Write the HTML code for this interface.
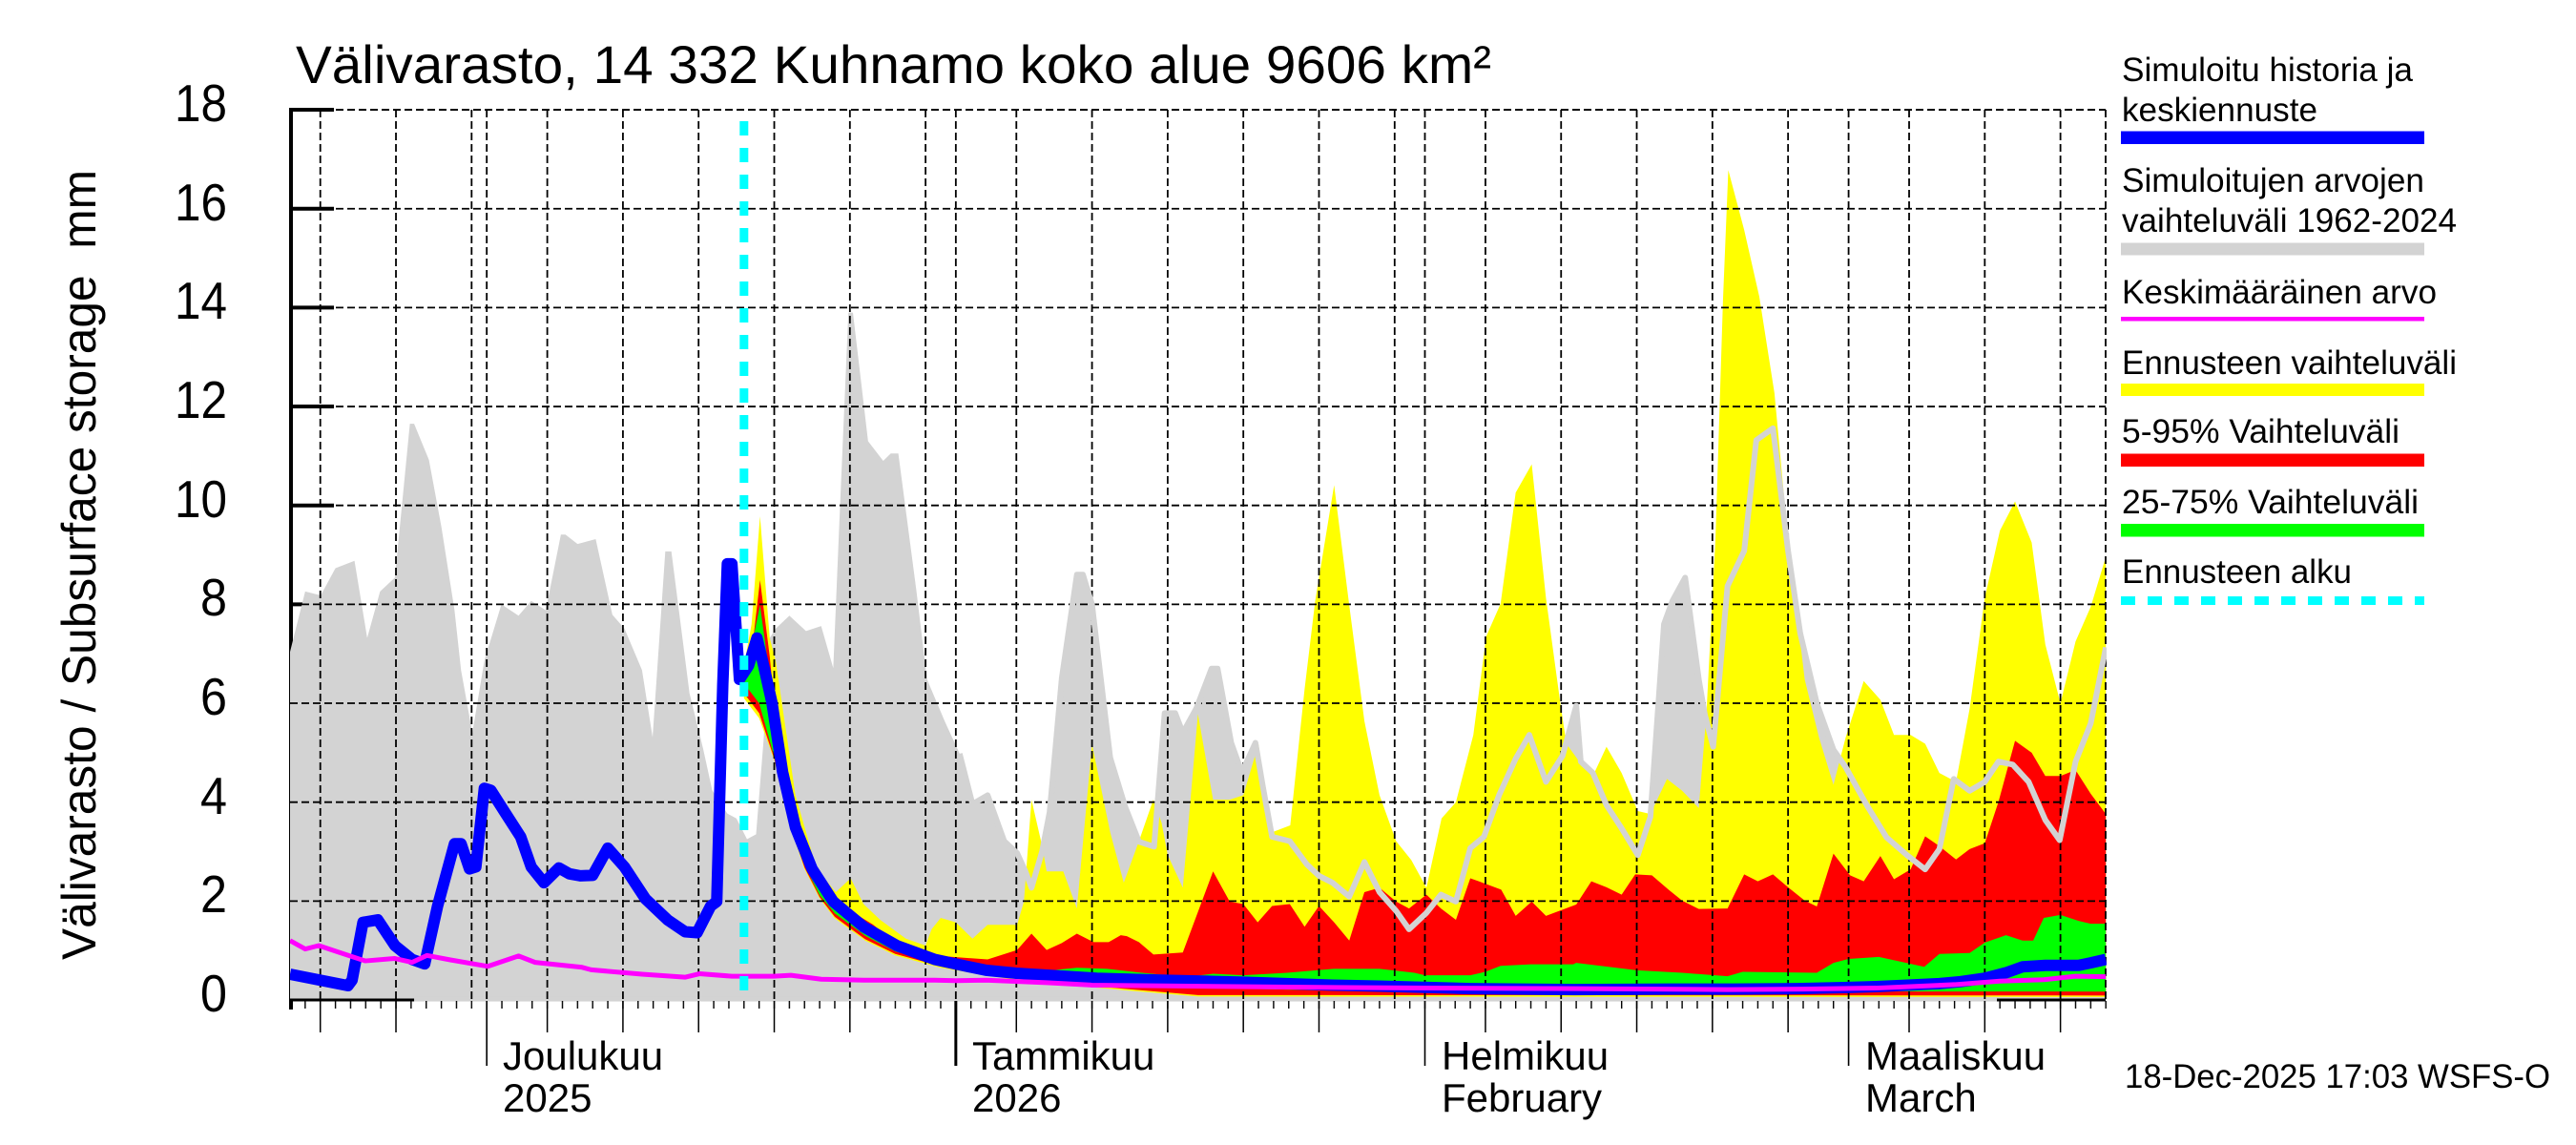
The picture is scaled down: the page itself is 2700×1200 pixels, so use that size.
<!DOCTYPE html>
<html><head><meta charset="utf-8">
<style>
html,body{margin:0;padding:0;background:#fff;}
svg{display:block;}
text{font-family:"Liberation Sans",Arial,sans-serif;fill:#000;}
</style></head>
<body>
<svg width="2700" height="1200" viewBox="0 0 2700 1200" xmlns="http://www.w3.org/2000/svg">
<defs>
<clipPath id="pc"><rect x="304" y="112" width="1904" height="940"/></clipPath>
<pattern id="dt" patternUnits="userSpaceOnUse" x="303.3" y="1049" width="15.86" height="8"><rect x="0" y="0" width="1.4" height="8" fill="#000"/></pattern>
</defs>
<rect width="2700" height="1200" fill="#fff"/>

<!-- Title -->
<text x="310" y="87" font-size="56" textLength="1253" lengthAdjust="spacingAndGlyphs">Välivarasto, 14 332 Kuhnamo koko alue 9606 km²</text>

<!-- Y axis title -->
<text transform="translate(100,592) rotate(-90)" x="0" y="0" font-size="50" text-anchor="middle" textLength="828" lengthAdjust="spacingAndGlyphs" xml:space="preserve">Välivarasto / Subsurface storage&#160; mm</text>

<!-- Y labels -->
<g font-size="55" text-anchor="end">
<text x="238" y="127" textLength="55" lengthAdjust="spacingAndGlyphs">18</text>
<text x="238" y="231" textLength="55" lengthAdjust="spacingAndGlyphs">16</text>
<text x="238" y="334" textLength="55" lengthAdjust="spacingAndGlyphs">14</text>
<text x="238" y="438" textLength="55" lengthAdjust="spacingAndGlyphs">12</text>
<text x="238" y="542" textLength="55" lengthAdjust="spacingAndGlyphs">10</text>
<text x="238" y="645" textLength="28" lengthAdjust="spacingAndGlyphs">8</text>
<text x="238" y="749" textLength="28" lengthAdjust="spacingAndGlyphs">6</text>
<text x="238" y="853" textLength="28" lengthAdjust="spacingAndGlyphs">4</text>
<text x="238" y="956" textLength="28" lengthAdjust="spacingAndGlyphs">2</text>
<text x="238" y="1060" textLength="28" lengthAdjust="spacingAndGlyphs">0</text>
</g>

<!-- axes and ticks (below fills) -->
<line x1="305" y1="113" x2="305" y2="1058" stroke="#000" stroke-width="4"/>
<path d="M304 115.06H350M304 218.72H350M304 322.38H350M304 426.04H350M304 529.7H350M304 633.36H350M304 737.02H350M304 840.68H350M304 944.34H350" stroke="#000" stroke-width="4"/>
<line x1="304" y1="1048" x2="2207" y2="1048" stroke="#000" stroke-width="3"/>

<!-- data fills -->
<g clip-path="url(#pc)">
<g transform="translate(304,1048) scale(15.86,-51.83)">
<polygon fill="#d3d3d3" points="0,7.04 1,8.26 2.03,8.18 3,8.73 4.26,8.88 5.1,7.32 5.95,8.26 6.93,8.54 7.92,11.65 8.2,11.65 9.18,10.92 10,9.57 10.87,7.88 11.3,6.67 12.05,5.4 12.84,6.86 13.97,8 15.1,7.77 15.94,8.07 16.9,7.88 17.9,9.41 18.2,9.41 19,9.22 20.2,9.32 21.3,7.79 22.1,7.51 23.26,6.67 23.96,5.31 24.8,9.07 25.2,9.07 26.4,6.2 27.3,5.08 27.9,4.24 28.9,3.77 29.5,3.67 30.2,3.25 30.8,3.35 31.3,5.27 31.7,7.32 32.1,7.51 33,7.77 34.1,7.46 35.1,7.56 35.9,6.71 36.35,10 36.9,13.9 37.2,13.9 38.2,11.3 39.2,10.9 39.7,11.05 40.2,11.05 41.4,8.26 42.1,6.48 43.26,5.64 44.25,4.98 45.1,3.96 46.1,4.14 47.2,3.21 48.05,2.97 48.6,2.6 49,2.27 49.7,3 50.2,3.8 51,6.5 52,8.6 52.4,8.6 53,8 54.2,4.9 55.2,3.9 56.1,3.2 57.1,3.1 57.8,5.8 58.5,5.8 59,5.4 59.9,5.9 60.9,6.7 61.3,6.7 62.2,5.2 62.9,4.6 63.8,5.2 64.3,4.3 64.9,3.3 66.07,3.21 67.2,2.74 68,2.51 68.9,2.37 70,2.09 71,2.79 72,2.18 73.1,1.8 73.95,1.43 75.1,1.76 76.06,2.13 77.05,1.99 78,3.07 78.9,3.3 79.9,4.14 81,4.88 81.9,5.36 83,4.41 84.1,4.94 85,5.95 85.3,4.82 86.1,4.59 87,3.94 88,3.47 89.07,2.93 89.9,3.7 90.8,7.6 91.36,8.07 92.2,8.54 93.1,6.48 93.5,5.77 94.05,5.12 95,8.37 96.1,9.08 96.9,11.32 98,11.56 99,9.08 99.8,7.42 100.9,6 102,5.06 102.8,4.71 104.2,3.94 105.5,3.29 106.85,2.93 108.06,2.64 109,3.05 109.95,4.47 111,4.23 112,4.41 112.9,4.82 113.85,4.76 114.9,4.41 116,3.64 116.95,3.23 118,4.82 119,5.59 120,7.13 120,0.03 0,0.03"/>
<rect x="8.2" y="-0.03" width="104.6" height="0.09" fill="#d3d3d3"/>
<polygon fill="#ffff00" points="30,6.76 30.5,7.6 31.06,9.78 31.7,7.32 32.1,6.85 33.4,4.14 34.8,2.65 36.07,2.18 37.05,2.46 37.9,1.94 39,1.62 40.7,1.24 42,1.1 42.4,1.43 43,1.66 44,1.57 45.1,1.24 46.1,1.52 48.05,1.52 48.5,1.99 49,4.05 49.7,3.12 50,2.6 51.1,2.6 52,1.85 53,5.17 54.2,3.39 55.1,2.37 56.1,3.21 57.05,4.05 57.6,3.58 58,2.93 59,2.27 60,5.78 61,4.05 62.1,4.05 63,4.14 64,5.17 64.9,3.39 66.1,3.53 67.05,6.29 67.75,8.07 69,10.41 70,7.98 71,5.64 72,4.14 73.1,3.21 74.1,2.83 75.1,2.27 76.1,3.67 77.05,4 78.2,5.36 79.05,7.35 80,8.01 81,10.26 82.06,10.83 83,8.13 83.95,6 84.35,5.18 85.2,4.82 86.1,4.53 87,5.12 88,4.59 89.07,3.82 89.9,3.76 91,4.47 92,4.23 93.1,3.88 93.6,5.77 94.2,9.31 94.7,14.16 95.05,16.78 96.1,15.57 97.1,14.22 98.1,12.27 99,9.31 100.1,6.48 101.05,5.3 102,4.35 102.8,5.3 104,6.45 105.1,6.07 106,5.36 107.1,5.36 108.06,5.18 109,4.59 110.1,4.41 111,5.89 112,8.13 113,9.49 114,10.08 115.1,9.25 116,7.19 117,6 118,7.25 119,7.95 120,8.96 120,0.06 60,0.07 55,0.2 48,0.4 43,0.65 40,0.9 38,1.2 36,1.65 35,2.05 34,2.65 33,3.55 32,4.85 31,5.7 30,6.1"/>
<polygon fill="#ff0000" points="30,6.3 30.5,7 31.06,8.49 31.7,6.95 32.3,5.08 33.4,3.5 34.5,2.7 35.9,2.02 37.05,1.8 38.5,1.53 40.1,1.15 42.6,0.9 43.8,0.87 46.1,0.82 48.05,1.01 49,1.34 50,1.01 51,1.15 52,1.34 53.1,1.17 54.1,1.17 54.9,1.31 55.3,1.29 56.1,1.17 57.06,0.92 59,0.96 61,2.6 62.1,1.99 63,1.94 63.95,1.57 64.9,1.9 66.07,1.94 67.05,1.48 68,1.9 69,1.57 70,1.2 71,2.18 72,2.27 73.1,1.99 73.95,1.85 75.1,2.13 76.06,1.85 77.05,1.62 78,2.46 78.56,2.4 80.04,2.23 81,1.7 82.06,1.99 83,1.7 85,1.93 86,2.4 87,2.28 88,2.13 88.9,2.54 90,2.52 91.1,2.23 92,2.01 93.1,1.84 95,1.85 96.1,2.54 97,2.4 98,2.54 99,2.28 100.1,2.01 100.9,1.89 102,2.96 103.1,2.52 104,2.4 105.1,2.91 106,2.44 107.1,2.64 108.06,3.31 109,3.11 110.1,2.84 111,3.05 112,3.17 112.9,4 114,5.24 115.1,5 116,4.53 117,4.53 118,4.65 119,4.17 120,3.76 120,0.09 60,0.1 55,0.23 48,0.43 43,0.68 40,0.93 38,1.23 36,1.68 35,2.08 34,2.68 33,3.58 32,4.88 31,5.8 30,6.2"/>
<polygon fill="#00ff00" points="30,6.5 30.6,7.3 31.06,7.98 31.5,7 32.3,5.1 33.4,3.7 35,2.3 37,1.75 40,1.18 43,0.87 46,0.66 48,0.58 50,0.59 52,0.65 54,0.63 56,0.56 58,0.5 59.6,0.48 61,0.53 63,0.5 65.9,0.55 67,0.58 69,0.63 72,0.63 74.3,0.55 75,0.5 78,0.5 79,0.57 80,0.69 82,0.72 84.8,0.72 85,0.75 89,0.6 92,0.55 95,0.48 96,0.57 100.9,0.55 102,0.75 103,0.83 105,0.87 108,0.67 109,0.93 111,0.95 112,1.16 113.4,1.31 114.5,1.2 115.2,1.2 115.9,1.66 117,1.72 118.2,1.6 119,1.54 120,1.54 120,0.17 70,0.18 60,0.25 50,0.42 45,0.58 40,0.98 38,1.3 36,1.75 35,2.12 34,2.72 33,3.62 32,4.92 31,6 30,6.4"/>
</g>
</g>

<!-- grid -->
<g stroke="#000" stroke-width="1.8" stroke-dasharray="8,4" fill="none">
<path d="M304 115.06H2207M304 218.72H2207M304 322.38H2207M304 426.04H2207M304 529.7H2207M304 633.36H2207M304 737.02H2207M304 840.68H2207M304 944.34H2207"/>
<path d="M335.72 115V1048M415.02 115V1048M494.32 115V1048M510.18 115V1048M573.62 115V1048M652.92 115V1048M732.22 115V1048M811.52 115V1048M890.82 115V1048M970.12 115V1048M1001.84 115V1048M1065.28 115V1048M1144.58 115V1048M1223.88 115V1048M1303.18 115V1048M1382.48 115V1048M1461.78 115V1048M1493.5 115V1048M1556.94 115V1048M1636.24 115V1048M1715.54 115V1048M1794.84 115V1048M1874.14 115V1048M1937.58 115V1048M2001.02 115V1048M2080.32 115V1048M2159.62 115V1048M2207 115V1048"/>
</g>

<!-- x ticks -->
<rect x="303" y="1049" width="1906" height="8" fill="url(#dt)"/>
<path d="M335.72 1049V1082M415.02 1049V1082M573.62 1049V1082M652.92 1049V1082M732.22 1049V1082M811.52 1049V1082M890.82 1049V1082M1065.28 1049V1082M1144.58 1049V1082M1223.88 1049V1082M1303.18 1049V1082M1382.48 1049V1082M1556.94 1049V1082M1636.24 1049V1082M1715.54 1049V1082M1794.84 1049V1082M1874.14 1049V1082M2001.02 1049V1082M2080.32 1049V1082M2159.62 1049V1082" stroke="#000" stroke-width="1.5"/>
<path d="M510.18 1049V1117M1493.5 1049V1117M1937.58 1049V1117" stroke="#000" stroke-width="1.6"/>
<path d="M1001.84 1049V1117" stroke="#000" stroke-width="3"/>

<!-- lines -->
<g clip-path="url(#pc)">
<g transform="translate(304,1048) scale(15.86,-51.83)" fill="none" stroke-linejoin="round">
<polyline vector-effect="non-scaling-stroke" stroke="#d3d3d3" stroke-width="6" points="44.25,4.98 45.1,3.96 46.1,4.14 47.2,3.21 48.05,2.97 48.6,2.6 49,2.27 49.7,3 50.2,3.8 51,6.5 52,8.6 52.4,8.6 53,8 54.2,4.9 55.2,3.9 56.1,3.2 57.1,3.1 57.8,5.8 58.5,5.8 59,5.4 59.9,5.9 60.9,6.7 61.3,6.7 62.2,5.2 62.9,4.6 63.8,5.2 64.3,4.3 64.9,3.3 66.07,3.21 67.2,2.74 68,2.51 68.9,2.37 70,2.09 71,2.79 72,2.18 73.1,1.8 73.95,1.43 75.1,1.76 76.06,2.13 77.05,1.99 78,3.07 78.9,3.3 79.9,4.14 81,4.88 81.9,5.36 83,4.41 84.1,4.94 85,5.95 85.3,4.82 86.1,4.59 87,3.94 88,3.47 89.07,2.93 89.9,3.7 90.8,7.6 91.36,8.07 92.2,8.54 93.1,6.48 93.5,5.77 94.05,5.12 95,8.37 96.1,9.08 96.9,11.32 98,11.56 99,9.08 99.8,7.42 100.9,6 102,5.06 102.8,4.71 104.2,3.94 105.5,3.29 106.85,2.93 108.06,2.64 109,3.05 109.95,4.47 111,4.23 112,4.41 112.9,4.82 113.85,4.76 114.9,4.41 116,3.64 116.95,3.23 118,4.82 119,5.59 120,7.13"/>
<polyline vector-effect="non-scaling-stroke" stroke="#0000ff" stroke-width="12" points="0,0.52 3.83,0.29 4.1,0.4 4.82,1.57 5.8,1.62 6.93,1.1 8.06,0.82 8.9,0.73 9.75,1.9 10.87,3.16 11.3,3.16 11.86,2.65 12.28,2.69 12.84,4.28 13.27,4.24 14.25,3.77 15.24,3.3 15.94,2.69 16.78,2.37 17.77,2.67 18.47,2.55 19.18,2.51 20,2.52 21,3.07 22.1,2.69 23.5,2.04 24.95,1.62 26.1,1.38 26.9,1.36 27.8,1.9 28.2,1.99 28.6,6.39 28.9,8.82 29.2,8.82 29.7,6.48 30.3,6.76 30.86,7.32 31.3,6.76 31.85,6.01 32.55,4.61 33.4,3.49 34.5,2.65 35.9,1.99 37.9,1.48 40.1,1.1 42.6,0.82 43.8,0.74 46,0.6 48,0.54 53.3,0.44 57.6,0.4 63,0.36 68.9,0.3 72,0.28 78,0.23 84.8,0.21 91.2,0.22 95.4,0.22 99.6,0.23 102.7,0.25 104.8,0.27 106.9,0.3 109,0.33 110.4,0.37 112,0.44 113.4,0.55 114.5,0.67 116,0.7 118.2,0.7 119,0.75 120,0.82"/>
<polyline vector-effect="non-scaling-stroke" stroke="#ff00ff" stroke-width="5" points="0,1.2 1,1.03 1.9,1.1 3.27,0.96 4.96,0.79 6.9,0.84 8.06,0.76 9.04,0.9 10.6,0.81 13.07,0.68 15.1,0.89 16.2,0.76 19.3,0.66 19.9,0.61 23.26,0.52 26.1,0.46 27.06,0.53 29.2,0.48 32,0.48 33.1,0.5 35.1,0.42 37.9,0.4 42.6,0.4 44,0.39 46,0.4 50,0.35 53,0.3 66,0.26 75,0.24 85,0.23 95,0.21 100,0.22 104.8,0.24 110,0.31 113,0.38 115.9,0.41 118,0.48 120,0.47"/>
</g>
</g>

<!-- forecast start -->
<line x1="779.8" y1="127" x2="779.8" y2="1044" stroke="#00ffff" stroke-width="9" stroke-dasharray="15,13"/>

<!-- X labels -->
<g font-size="42">
<text x="527" y="1121">Joulukuu</text>
<text x="527" y="1165">2025</text>
<text x="1019" y="1121">Tammikuu</text>
<text x="1019" y="1165">2026</text>
<text x="1511" y="1121">Helmikuu</text>
<text x="1511" y="1165">February</text>
<text x="1955" y="1121">Maaliskuu</text>
<text x="1955" y="1165">March</text>
</g>
<text x="2227" y="1140" font-size="35" textLength="446" lengthAdjust="spacingAndGlyphs">18-Dec-2025 17:03 WSFS-O</text>

<!-- Legend -->
<g font-size="35.5">
<text x="2224" y="85" textLength="305" lengthAdjust="spacingAndGlyphs">Simuloitu historia ja</text>
<text x="2224" y="127" textLength="205" lengthAdjust="spacingAndGlyphs">keskiennuste</text>
<text x="2224" y="201" textLength="317" lengthAdjust="spacingAndGlyphs">Simuloitujen arvojen</text>
<text x="2224" y="243" textLength="351" lengthAdjust="spacingAndGlyphs">vaihteluväli 1962-2024</text>
<text x="2224" y="318" textLength="330" lengthAdjust="spacingAndGlyphs">Keskimääräinen arvo</text>
<text x="2224" y="392" textLength="351" lengthAdjust="spacingAndGlyphs">Ennusteen vaihteluväli</text>
<text x="2224" y="464" textLength="291" lengthAdjust="spacingAndGlyphs">5-95% Vaihteluväli</text>
<text x="2224" y="538" textLength="311" lengthAdjust="spacingAndGlyphs">25-75% Vaihteluväli</text>
<text x="2224" y="611" textLength="241" lengthAdjust="spacingAndGlyphs">Ennusteen alku</text>
</g>
<rect x="2223" y="137.5" width="318" height="13.5" fill="#0000ff"/>
<rect x="2223" y="254.5" width="318" height="13" fill="#d3d3d3"/>
<rect x="2223" y="332" width="318" height="4.5" fill="#ff00ff"/>
<rect x="2223" y="402" width="318" height="13" fill="#ffff00"/>
<rect x="2223" y="475.5" width="318" height="13.5" fill="#ff0000"/>
<rect x="2223" y="549" width="318" height="13.5" fill="#00ff00"/>
<line x1="2223" y1="629.5" x2="2541" y2="629.5" stroke="#00ffff" stroke-width="9" stroke-dasharray="15,13"/>
</svg>
</body></html>
